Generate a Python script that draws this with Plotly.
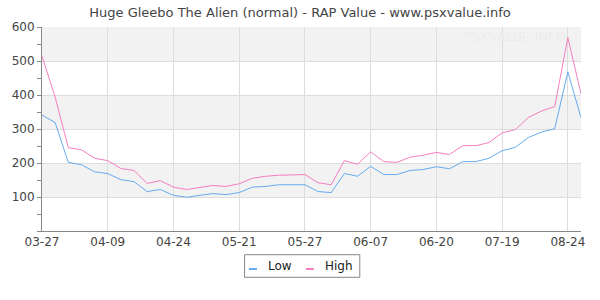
import plotly.graph_objects as go

dates = ["03-27", "03-30", "04-01", "04-03", "04-06", "04-09", "04-12", "04-15", "04-18", "04-21",
         "04-24", "04-30", "05-05", "05-10", "05-15", "05-21", "05-22", "05-23", "05-24", "05-26",
         "05-27", "05-29", "05-31", "06-02", "06-04", "06-07", "06-09", "06-12", "06-14", "06-17",
         "06-20", "06-25", "07-01", "07-06", "07-12", "07-19", "07-26", "08-02", "08-09", "08-16",
         "08-24", "08-28"]

low = [341, 319, 202, 195, 174, 169, 151, 145, 116, 122,
       105, 99, 105, 110, 107, 113, 129, 131, 136, 136,
       136, 116, 113, 169, 161, 190, 166, 166, 178, 181,
       189, 183, 204, 204, 214, 236, 246, 275, 291, 301,
       468, 333]

high = [514, 394, 245, 239, 214, 207, 184, 178, 140, 148,
        129, 122, 128, 134, 131, 139, 155, 161, 164, 166,
        166, 142, 136, 207, 196, 233, 204, 202, 217, 223,
        231, 225, 251, 251, 260, 289, 298, 334, 353, 366,
        569, 404]

tick_labels = ["03-27", "04-09", "04-24", "05-21", "05-27", "06-07", "06-20", "07-19", "08-24"]
y_ticks = [100, 200, 300, 400, 500, 600]
bands = [(100, 200), (300, 400), (500, 600)]

FONT = "DejaVu Sans"
LOW_COLOR = "#66aaf0"
HIGH_COLOR = "#f47ec0"

fig = go.Figure()
fig.add_trace(go.Scatter(x=dates, y=low, mode="lines", name="Low",
                         line=dict(color=LOW_COLOR, width=1), showlegend=False))
fig.add_trace(go.Scatter(x=dates, y=high, mode="lines", name="High",
                         line=dict(color=HIGH_COLOR, width=1), showlegend=False))

shapes = []
for y0, y1 in bands:
    shapes.append(dict(type="rect", xref="paper", yref="y", x0=0, x1=1, y0=y0, y1=y1,
                       fillcolor="#f2f2f2", line=dict(width=0), layer="below"))

# custom legend (box + symbols), in paper coordinates
shapes.append(dict(type="rect", xref="paper", yref="paper", x0=0.3758, x1=0.5896,
                   y0=-0.2270, y1=-0.1162, line=dict(color="#888", width=1),
                   fillcolor="white"))
shapes.append(dict(type="line", xref="paper", yref="paper", x0=0.3839, x1=0.3987,
                   y0=-0.1863, y1=-0.1863, line=dict(color=LOW_COLOR, width=2)))
shapes.append(dict(type="line", xref="paper", yref="paper", x0=0.4898, x1=0.5041,
                   y0=-0.1863, y1=-0.1863, line=dict(color=HIGH_COLOR, width=2)))

annotations = [
    dict(text="PSXVALUE.INFO", xref="paper", yref="paper", x=0.975, y=0.955,
         xanchor="right", yanchor="middle", showarrow=False,
         font=dict(family=FONT, size=13, color="#ececec")),
    dict(text="Low", xref="paper", yref="paper", x=0.4159, y=-0.1716,
         xanchor="left", yanchor="middle", showarrow=False,
         font=dict(family=FONT, size=12, color="#222")),
    dict(text="High", xref="paper", yref="paper", x=0.5213, y=-0.1716,
         xanchor="left", yanchor="middle", showarrow=False,
         font=dict(family=FONT, size=12, color="#222")),
]

fig.update_layout(
    width=600, height=300,
    margin=dict(l=40, r=19, t=27, b=69),
    paper_bgcolor="white", plot_bgcolor="white",
    font=dict(family=FONT, size=12, color="#444"),
    title=dict(text="Huge Gleebo The Alien (normal) - RAP Value - www.psxvalue.info",
               x=0.5, xanchor="center", y=0.96, yanchor="middle",
               font=dict(family=FONT, size=13, color="#444")),
    shapes=shapes,
    annotations=annotations,
    showlegend=False,
)

fig.update_xaxes(type="category", range=[0, len(dates) - 1],
                 tickmode="array", tickvals=tick_labels, ticktext=tick_labels,
                 showgrid=True, gridcolor="#dddddd", gridwidth=1,
                 showline=True, linecolor="#888", linewidth=1,
                 ticks="", tickfont=dict(size=12, color="#444"), zeroline=False)
fig.update_yaxes(range=[0, 600], tickmode="array", tickvals=y_ticks,
                 showgrid=True, gridcolor="#dddddd", gridwidth=1,
                 showline=True, linecolor="#888", linewidth=1,
                 ticks="outside", ticklen=4, tickcolor="#888",
                 minor=dict(dtick=50, tick0=0, ticks="outside", ticklen=4, tickcolor="#888", showgrid=False),
                 tickfont=dict(size=12, color="#444"), zeroline=False)

fig.write_html("out.html")
